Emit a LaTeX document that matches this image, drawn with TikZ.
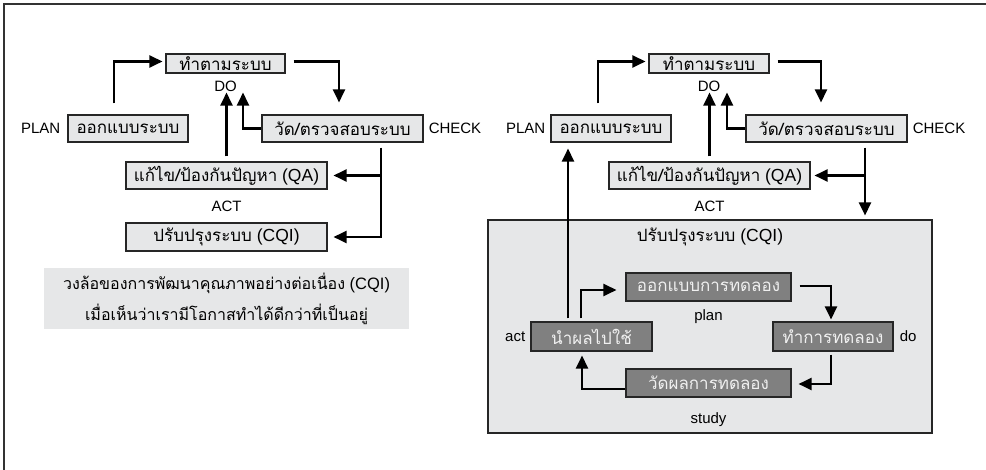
\documentclass[tikz,border=0pt]{standalone}
\usepackage{fontspec}
\setmainfont{Liberation Sans}
\newfontfamily\thaifont[Script=Thai, Scale=0.97]{Loma}
\usetikzlibrary{positioning}
\usetikzlibrary{arrows.meta}
\definecolor{GrisClair}{HTML}{E6E7E8}
\definecolor{GrisFonce}{HTML}{808080}
\tikzset{
	boite/.style={draw=black!85, line width=1.1pt, fill=GrisClair, inner sep=0pt, minimum height=27pt},
	boitefoncee/.style={boite, fill=GrisFonce, text=white!94!black},
	etiquette/.style={inner sep=0pt, font=\fontsize{15}{18}\selectfont},
	fleche/.style={line width=2.5pt, -{Triangle[length=13pt,width=12pt]}}
}
\begin{document}
\begin{tikzpicture}[x=1pt, y=-1pt, every node/.style={font=\fontsize{17.5}{20}\selectfont}, node distance=6pt]
			\useasboundingbox (0,0) rectangle (986,470);
			% Cadre
			\draw[line width=1.4pt, black!80] (4,470) -- (4,4) -- (986,4);
			%
			% Cycle de gauche
			\node[boite, minimum width=119pt, minimum height=19pt] (do1) at (225.5,63.5) {\thaifont ทำตามระบบ};
			\node[boite, minimum width=120pt] (plan1) at (128,128.5) {\thaifont ออกแบบระบบ};
			\node[boite, minimum width=161pt] (check1) at (342.5,128.5) {\thaifont วัด/ตรวจสอบระบบ};
			\node[boite, minimum width=201pt] (qa1) at (226.5,175.5) {{\thaifont แก้ไข/ป้องกันปัญหา} (QA)};
			\node[boite, minimum width=201pt, minimum height=28pt] (cqi1) at (226.5,237) {{\thaifont ปรับปรุงระบบ} (CQI)};
			\node[etiquette, below=7pt of do1] (lbldo1) {DO};
			\node[etiquette, left=7pt of plan1] (lblplan1) {PLAN};
			\node[etiquette, right=5pt of check1] (lblcheck1) {CHECK};
			\node[etiquette, below=11pt of qa1] (lblact1) {ACT};
			%
			\draw[fleche] ([xshift=-14pt,yshift=11pt]plan1.north) |- ([xshift=-3pt,yshift=2pt]do1.west);
			\draw[fleche] ([xshift=8pt,yshift=2pt]do1.east) -| ([xshift=-3.5pt,yshift=12pt]check1.north);
			\draw[fleche] (check1.west) -| ([xshift=17.5pt,yshift=-19pt]do1.south);
			\draw[fleche] ([yshift=5pt]qa1.north) -- ([yshift=-19pt]qa1.north |- do1.south);
			\coordinate (d1) at ([xshift=38.5pt,yshift=-5pt]check1.south);
			\draw[fleche] (d1) |- ([xshift=6pt]cqi1.east);
			\draw[fleche] (d1 |- qa1.east) -- ([xshift=6pt]qa1.east);
			%
			% Legende
			\node[fill=GrisClair, minimum width=365pt, minimum height=61pt, align=center, font=\fontsize{16.5}{31}\selectfont] (legende) at (226.5,298.5)
				{{\thaifont วงล้อของการพัฒนาคุณภาพอย่างต่อเนื่อง} (CQI)\\ {\thaifont เมื่อเห็นว่าเรามีโอกาสทำได้ดีกว่าที่เป็นอยู่}};
			%
			% Cycle de droite
			\node[boite, minimum width=120pt, minimum height=19pt] (do2) at (709,63.5) {\thaifont ทำตามระบบ};
			\node[boite, minimum width=120pt] (plan2) at (611,128.5) {\thaifont ออกแบบระบบ};
			\node[boite, minimum width=161pt] (check2) at (826.5,128.5) {\thaifont วัด/ตรวจสอบระบบ};
			\node[boite, minimum width=201pt] (qa2) at (709.5,175.5) {{\thaifont แก้ไข/ป้องกันปัญหา} (QA)};
			\node[etiquette, below=7pt of do2] (lbldo2) {DO};
			\node[etiquette, left=5pt of plan2] (lblplan2) {PLAN};
			\node[etiquette, right=5pt of check2] (lblcheck2) {CHECK};
			\node[etiquette, below=11pt of qa2] (lblact2) {ACT};
			%
			% Bloc CQI avec le cycle PDSA
			\node[boite, minimum width=444pt, minimum height=213pt] (cqi2) at (710,326.5) {};
			\node[inner sep=0pt] (titre) at (710,237) {{\thaifont ปรับปรุงระบบ} (CQI)};
			\node[boitefoncee, minimum width=165pt, minimum height=28pt] (iplan) at (708.5,287) {\thaifont ออกแบบการทดลอง};
			\node[boitefoncee, minimum width=121pt, minimum height=29pt] (iact) at (591.5,336.5) {\thaifont นำผลไปใช้};
			\node[boitefoncee, minimum width=120pt, minimum height=29pt] (ido) at (833,336.5) {\thaifont ทำการทดลอง};
			\node[boitefoncee, minimum width=165pt, minimum height=28pt] (istudy) at (708.5,383) {\thaifont วัดผลการทดลอง};
			\node[etiquette, below=8pt of iplan] (lblplan) {plan};
			\node[etiquette, left=5pt of iact] (lblact) {act};
			\node[etiquette, right=6pt of ido] (lbldo) {do};
			\node[etiquette, below=15pt of istudy] (lblstudy) {study};
			%
			\draw[fleche] ([xshift=-13pt,yshift=11pt]plan2.north) |- ([xshift=-3pt,yshift=2pt]do2.west);
			\draw[fleche] ([xshift=8pt,yshift=2pt]do2.east) -| ([xshift=-5.5pt,yshift=12pt]check2.north);
			\draw[fleche] (check2.west) -| ([xshift=18pt,yshift=-19pt]do2.south);
			\draw[fleche] ([yshift=5pt]qa2.north) -- ([yshift=-19pt]qa2.north |- do2.south);
			\coordinate (d2) at ([xshift=38.5pt,yshift=-5pt]check2.south);
			\draw[fleche] (d2) -- ([yshift=4pt]d2 |- cqi2.north);
			\draw[fleche] (d2 |- qa2.east) -- ([xshift=4pt]qa2.east);
			\coordinate (s) at ([xshift=-23.5pt,yshift=3pt]iact.north);
			\draw[fleche] (s) -- ([yshift=-6pt]s |- plan2.south);
			%
			\draw[fleche] ([xshift=-10.5pt,yshift=3pt]iact.north) |- ([xshift=-9pt,yshift=-3pt]iplan.west);
			\draw[fleche] ([xshift=8pt,yshift=1pt]iplan.east) -| ([xshift=-2pt,yshift=2pt]ido.north);
			\draw[fleche] ([xshift=-2pt,yshift=-3pt]ido.south) |- ([xshift=7pt,yshift=-1pt]istudy.east);
			\draw[fleche] ([yshift=-6pt]istudy.west) -| ([xshift=-9.5pt,yshift=-4pt]iact.south);
		\end{tikzpicture}
\end{document}
